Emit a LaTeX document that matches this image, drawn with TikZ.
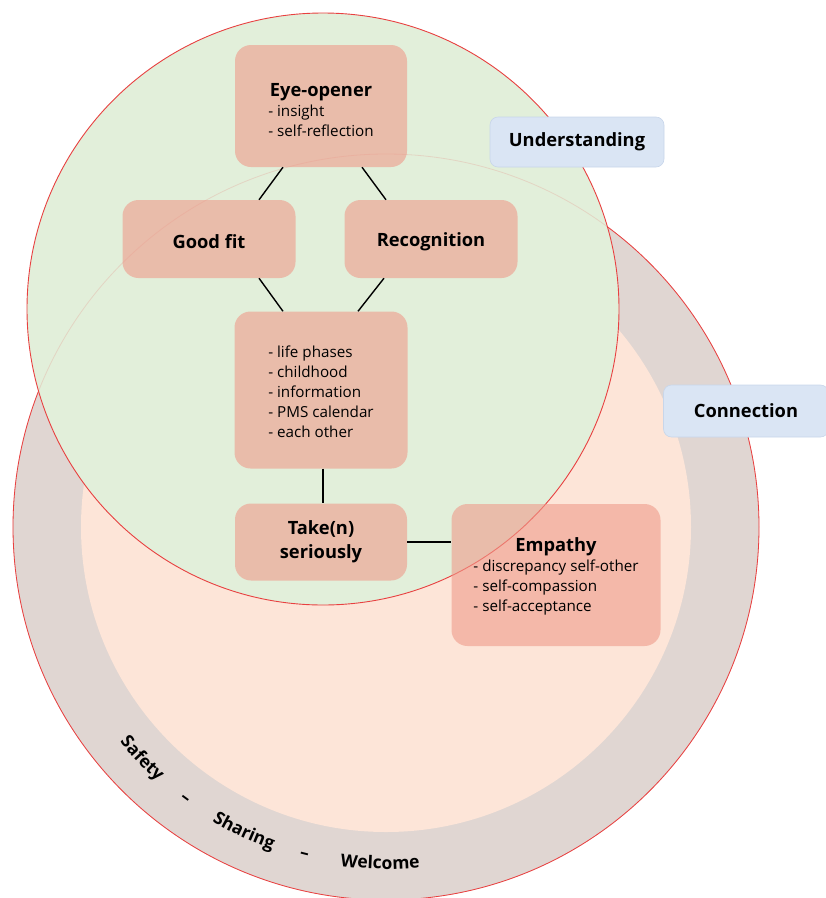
\documentclass[tikz,border=0pt]{standalone}
\usepackage{fontspec}
\setmainfont{Open Sans}
\usetikzlibrary{decorations.text,calc}
\definecolor{ringc}{RGB}{224,214,210}
\definecolor{innerc}{RGB}{253,229,216}
\definecolor{greenc}{RGB}{226,239,218}
\definecolor{boxc}{RGB}{239,154,138}
\definecolor{bluec}{RGB}{218,229,244}
\definecolor{blueb}{RGB}{200,214,234}
\definecolor{redl}{RGB}{232,64,64}
\newcommand{\ttl}{\bfseries\fontsize{18.3}{24}\selectfont}
\begin{document}
\begin{tikzpicture}[x=1pt,y=1pt,
  box/.style={rounded corners=16pt, fill=boxc, fill opacity=0.6, text opacity=1,
    inner sep=0pt, align=center, font=\fontsize{15.2}{20}\selectfont},
  tag/.style={rounded corners=8pt, fill=bluec, draw=blueb, line width=0.6pt,
    inner sep=0pt, font=\ttl},
  conn/.style={line width=1.4pt, black},
  ringtext/.style={decorate, decoration={text along path, text align=center,
    text={|\bfseries\fontsize{17.5}{18}\selectfont|#1}}}
]
\useasboundingbox (0,0) rectangle (826,-898);
% circles
\fill[ringc, draw=redl, line width=0.8pt] (386,-527) circle (373);
\fill[innerc] (386,-527) circle (305);
\draw[redl, line width=0.9pt, fill=greenc] (323,-309) circle (296);
\draw[redl, draw opacity=0.15, line width=0.8pt] (386,-527) circle (373);

% ring text
\coordinate (rc) at (386,-527);
\path[ringtext={Safety}] ($(rc)+(212.5:342)$) arc (212.5:234.5:342);
\path[ringtext={–}] ($(rc)+(225.5:342)$) arc (225.5:241.5:342);
\path[ringtext={Sharing}] ($(rc)+(234:342)$) arc (234:256:342);
\path[ringtext={–}] ($(rc)+(248:342)$) arc (248:264:342);
\path[ringtext={Welcome}] ($(rc)+(258:342)$) arc (258:280:342);

% boxes
\node[box, minimum width=172pt, minimum height=122pt] (eye) at (321,-106)
  {\begin{tabular}{@{}l@{}}\noalign{\vspace{12pt}}\multicolumn{1}{@{}c@{}}{\ttl Eye-opener}\\- insight\\- self-reflection\end{tabular}};
\node[box, minimum width=173pt, minimum height=78pt, font=\ttl] (good) at (209,-239) {\rule{0pt}{19pt}Good fit};
\node[box, minimum width=173pt, minimum height=78pt, font=\ttl] (rec) at (431,-239) {\rule{0pt}{19pt}Recognition};
\node[box, minimum width=173pt, minimum height=157pt] (list) at (321,-390)
  {\begin{tabular}{@{}l@{}}\noalign{\vspace{6pt}}- life phases\\- childhood\\- information\\- PMS calendar\\- each other\end{tabular}};
\node[box, minimum width=172pt, minimum height=77pt, font=\ttl] (take) at (321,-542) {Take(n)\\seriously};
\node[box, minimum width=209pt, minimum height=142pt] (emp) at (556,-575)
  {\begin{tabular}{@{}l@{}}\noalign{\vspace{5pt}}\multicolumn{1}{@{}c@{}}{\ttl Empathy}\\- discrepancy self-other\\- self-compassion\\- self-acceptance\end{tabular}};

\node[tag, minimum width=174pt, minimum height=50pt] (und) at (577,-142) {Understanding};
\node[tag, minimum width=165pt, minimum height=52pt] (con) at (746,-411) {Connection};

% connectors
\draw[conn] ([xshift=-38pt]eye.south) -- ([xshift=50pt]good.north);
\draw[conn] ([xshift=41pt]eye.south) -- ([xshift=-45pt]rec.north);
\draw[conn] ([xshift=50pt]good.south) -- ([xshift=-38pt]list.north);
\draw[conn] ([xshift=-47pt]rec.south) -- ([xshift=37pt]list.north);
\draw[conn] ([xshift=2pt]list.south) -- ([xshift=2pt]take.north);
\draw[conn] (take.east) -- (take.east -| emp.west);
\end{tikzpicture}
\end{document}
